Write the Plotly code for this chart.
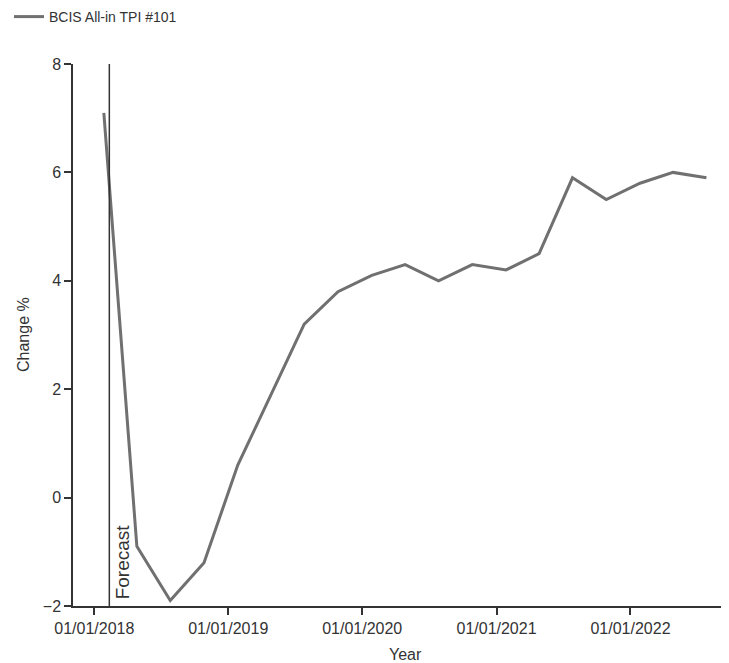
import plotly.graph_objects as go

# Data
dates = ["2018-01-27", "2018-04-27", "2018-07-27", "2018-10-27",
         "2019-01-27", "2019-04-27", "2019-07-27", "2019-10-27",
         "2020-01-27", "2020-04-27", "2020-07-27", "2020-10-27",
         "2021-01-27", "2021-04-27", "2021-07-27", "2021-10-27",
         "2022-01-27", "2022-04-27", "2022-07-27"]
change_pct = [7.1, -0.9, -1.9, -1.2,
              0.6, 1.9, 3.2, 3.8,
              4.1, 4.3, 4.0, 4.3,
              4.2, 4.5, 5.9, 5.5,
              5.8, 6.0, 5.9]
series_name = "BCIS All-in TPI #101"
forecast_date = "2018-02-11"
tick_vals = ["2018-01-01", "2019-01-01", "2020-01-01", "2021-01-01", "2022-01-01"]
tick_text = ["01/01/2018", "01/01/2019", "01/01/2020", "01/01/2021", "01/01/2022"]
y_ticks = [-2, 0, 2, 4, 6, 8]
x_title = "Year"
y_title = "Change %"

FONT = "Liberation Sans, Arial, sans-serif"
W, H = 721, 655
ML, MR, MT, MB = 65, 2, 56, 57
PW, PH = W - ML - MR, H - MT - MB

fig = go.Figure()
fig.add_trace(go.Scatter(
    x=dates, y=change_pct, mode="lines", name=series_name,
    line=dict(color="#707070", width=3),
))

fig.add_shape(type="line", xref="x", yref="y",
              x0=forecast_date, x1=forecast_date, y0=-2, y1=8,
              line=dict(color="#333333", width=1.5))
fig.add_annotation(x=forecast_date, y=-2, xref="x", yref="y",
                   text="Forecast", textangle=-90, showarrow=False,
                   xanchor="left", yanchor="bottom", xshift=1, yshift=5,
                   font=dict(family=FONT, size=19, color="#333333"))

# axis titles
fig.add_annotation(x=(397 - ML) / PW, y=(H - MB - 646) / PH, xref="paper", yref="paper",
                   text=x_title, showarrow=False, xanchor="center", yanchor="middle",
                   font=dict(family=FONT, size=16, color="#333333"))
fig.add_annotation(x=(15 - ML) / PW, y=0.5, xref="paper", yref="paper",
                   text=y_title, textangle=-90, showarrow=False,
                   xanchor="center", yanchor="middle",
                   font=dict(family=FONT, size=16, color="#333333"))

fig.update_layout(
    width=W, height=H,
    margin=dict(l=ML, r=MR, t=MT, b=MB, autoexpand=False),
    paper_bgcolor="white", plot_bgcolor="white",
    font=dict(family=FONT, size=16, color="#333333"),
    showlegend=True,
    legend=dict(x=(1 - ML) / PW, y=1 + (MT + 7) / PH, xref="paper", yref="paper",
                xanchor="left", yanchor="top",
                font=dict(family=FONT, size=14, color="#333333"),
                itemwidth=30, bgcolor="rgba(0,0,0,0)"),
    xaxis=dict(
        type="date", range=["2017-11-04", "2022-09-21"],
        tickvals=tick_vals, ticktext=tick_text,
        showgrid=False, zeroline=False,
        showline=True, linecolor="#333333", linewidth=1.5,
        ticks="outside", ticklen=7, tickcolor="#333333", tickwidth=1.5,
        tickfont=dict(family=FONT, size=16, color="#333333"),
    ),
    yaxis=dict(
        range=[-2, 8], tickvals=y_ticks,
        showgrid=False, zeroline=False,
        showline=True, linecolor="#333333", linewidth=1.5,
        ticks="outside", ticklen=7, tickcolor="#333333", tickwidth=1.5,
        tickfont=dict(family=FONT, size=16, color="#333333"),
    ),
)

fig.write_html("out.html")
